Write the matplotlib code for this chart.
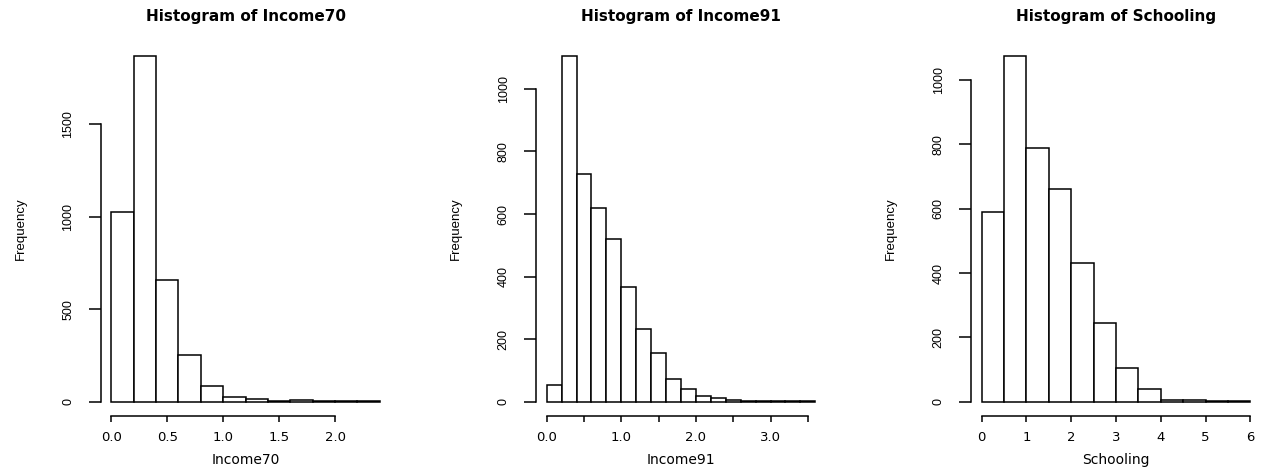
import numpy as np
import matplotlib
matplotlib.use("Agg")
import matplotlib.pyplot as plt

# ---- data ----
income70_breaks = [0.0, 0.2, 0.4, 0.6, 0.8, 1.0, 1.2, 1.4, 1.6, 1.8, 2.0, 2.2, 2.4]
income70_counts = [1024, 1871, 658, 251, 83, 24, 13, 5, 7, 4, 2, 4]

income91_breaks = [0.0, 0.2, 0.4, 0.6, 0.8, 1.0, 1.2, 1.4, 1.6, 1.8, 2.0, 2.2, 2.4,
                   2.6, 2.8, 3.0, 3.2, 3.4, 3.6]
income91_counts = [55, 1106, 728, 618, 521, 366, 233, 155, 72, 42, 18, 13, 5, 4, 1, 3, 1, 1]

schooling_breaks = [0.0, 0.5, 1.0, 1.5, 2.0, 2.5, 3.0, 3.5, 4.0, 4.5, 5.0, 5.5, 6.0]
schooling_counts = [589, 1076, 789, 663, 433, 245, 105, 39, 6, 4, 1, 1]

names = ["Income70", "Income91", "Schooling"]

income70_xticks = [0.0, 0.5, 1.0, 1.5, 2.0]
income70_xlabels = ["0.0", "0.5", "1.0", "1.5", "2.0"]
income91_xticks = [0.0, 0.5, 1.0, 1.5, 2.0, 2.5, 3.0, 3.5]
income91_xlabels = ["0.0", "", "1.0", "", "2.0", "", "3.0", ""]
schooling_xticks = [0, 1, 2, 3, 4, 5, 6]
schooling_xlabels = ["0", "1", "2", "3", "4", "5", "6"]

income70_yticks = [0, 500, 1000, 1500]
income91_yticks = [0, 200, 400, 600, 800, 1000]
schooling_yticks = [0, 200, 400, 600, 800, 1000]

panels = [
    (income70_breaks, income70_counts, income70_xticks, income70_xlabels, income70_yticks),
    (income91_breaks, income91_counts, income91_xticks, income91_xlabels, income91_yticks),
    (schooling_breaks, schooling_counts, schooling_xticks, schooling_xlabels, schooling_yticks),
]

W, H = 1266, 467
fig = plt.figure(figsize=(W / 100, H / 100), dpi=100)

lefts_px = [100.6, 536.0, 971.0]
width_px = 290.0
top_px, bottom_px = 41.9, 415.6

narrow = ["Liberation Sans", "DejaVu Sans"]

for (breaks, counts, xt, xl, yt), name, lpx in zip(panels, names, lefts_px):
    ax = fig.add_axes([lpx / W, 1 - bottom_px / H, width_px / W, (bottom_px - top_px) / H])
    b = np.array(breaks, dtype=float)
    ax.bar(b[:-1], counts, width=np.diff(b), align="edge",
           facecolor="white", edgecolor="black", linewidth=1.1)
    rng = b[-1] - b[0]
    ax.set_xlim(b[0] - 0.04 * rng, b[-1] + 0.04 * rng)
    mx = max(counts)
    ax.set_ylim(-0.04 * mx, 1.04 * mx)

    for s in ["top", "right"]:
        ax.spines[s].set_visible(False)
    ax.spines["left"].set_bounds(yt[0], yt[-1])
    ax.spines["bottom"].set_bounds(xt[0], xt[-1])
    for s in ["left", "bottom"]:
        ax.spines[s].set_linewidth(1.1)

    ax.set_xticks(xt)
    ax.set_xticklabels(xl, fontsize=9.5, family="DejaVu Sans")
    ax.set_yticks(yt)
    ax.set_yticklabels([str(v) for v in yt], rotation=90, va="center",
                       fontsize=9, family=narrow)
    ax.tick_params(axis="x", length=4.3, width=1.1, pad=6.5)
    ax.tick_params(axis="y", length=8.5, width=1.1, pad=10.5)

    ax.set_title("Histogram of " + name, fontsize=11, fontweight="bold",
                 family="DejaVu Sans", pad=15.0)
    ax.set_xlabel(name, fontsize=10, family="DejaVu Sans", va="center")
    ax.xaxis.set_label_coords(0.5, -(460 - bottom_px) / (bottom_px - top_px))
    ax.set_ylabel("Frequency", fontsize=9.5, family=narrow, va="center", ha="center")
    ax.yaxis.set_label_coords(-80.0 / width_px, 0.5)

fig.savefig("out.png", dpi=100)
